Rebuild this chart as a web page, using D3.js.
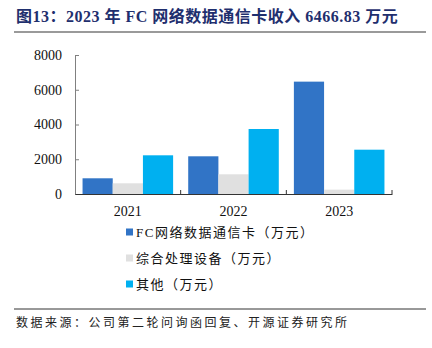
<!DOCTYPE html>
<html><head><meta charset="utf-8">
<script src="https://cdn.jsdelivr.net/npm/d3@7"></script>
<style>body{margin:0;background:#fff}svg{display:block}</style>
</head><body><svg id="c" width="432" height="348"></svg>
<script>
const years = ["2021", "2022", "2023"];
const seriesNames = ["FC网络数据通信卡（万元）", "综合处理设备（万元）", "其他（万元）"];
const fcCard = [904, 2170, 6466.83];
const processing = [615, 1133, 250];
const other = [2227, 3741, 2550];
const yTicks = [0, 2000, 4000, 6000, 8000];
const colors = ["#3174C6", "#E0E0E0", "#00B0F0"];
const title = "图13：2023 年 FC 网络数据通信卡收入 6466.83 万元";
const source = "数据来源：公司第二轮问询函回复、开源证券研究所";

const serif = "'Liberation Serif','Noto Sans CJK SC',serif";
const svg = d3.select("#c");
const series = [fcCard, processing, other];

// title
svg.append("text").attr("x", 16).attr("y", 22).text(title)
  .attr("font-family", serif).attr("font-weight", "bold").attr("font-size", 16)
  .attr("letter-spacing", 0.5).attr("fill", "#1F2F6E");
svg.append("line").attr("x1", 14).attr("x2", 426).attr("y1", 32).attr("y2", 32)
  .attr("stroke", "#9a9a9a").attr("stroke-width", 2);

const x0 = d3.scaleBand().domain(years).range([75, 392]).paddingInner(0).paddingOuter(0);
const x1 = d3.scaleBand().domain(d3.range(3)).range([0, x0.bandwidth()]).paddingInner(0).paddingOuter(0.25);
const y = d3.scaleLinear().domain([0, 8000]).range([194, 55]);

// bars
const g = svg.append("g");
years.forEach((yr, i) => {
  series.forEach((s, j) => {
    g.append("rect").attr("x", x0(yr) + x1(j)).attr("width", x1.bandwidth())
      .attr("y", y(s[i])).attr("height", y(0) - y(s[i])).attr("fill", colors[j]);
  });
});

// y axis
const ya = svg.append("g").attr("transform", "translate(75,0)")
  .call(d3.axisLeft(y).tickValues(yTicks).tickSizeInner(-4).tickSizeOuter(0).tickPadding(13).tickFormat(d3.format("d")));
ya.select(".domain").attr("stroke", "#808080");
ya.selectAll(".tick line").attr("stroke", "#808080");
ya.selectAll("text").attr("font-family", serif).attr("font-size", 14).attr("fill", "#111");

// x axis
const xa = svg.append("g").attr("transform", "translate(0,194)")
  .call(d3.axisBottom(x0).tickSize(0).tickPadding(12));
xa.select(".domain").attr("stroke", "#333");
xa.selectAll("text").attr("font-family", serif).attr("font-size", 14).attr("fill", "#111");
// category separator ticks
svg.append("g").selectAll("line").data(years).join("line")
  .attr("x1", d => x0(d) + x0.bandwidth()).attr("x2", d => x0(d) + x0.bandwidth())
  .attr("y1", 190).attr("y2", 194).attr("stroke", "#333");

// legend
const lg = svg.append("g");
seriesNames.forEach((n, i) => {
  const yy = 232 + i * 26;
  lg.append("rect").attr("x", 126).attr("y", yy - 3.5).attr("width", 7).attr("height", 7).attr("fill", colors[i]);
  lg.append("text").attr("x", 136).attr("y", yy).attr("dy", "0.35em").text(n)
    .attr("font-family", serif).attr("font-size", 13).attr("letter-spacing", 1.5).attr("fill", "#111");
});

// footer
svg.append("line").attr("x1", 14).attr("x2", 426).attr("y1", 309).attr("y2", 309)
  .attr("stroke", "#333").attr("stroke-width", 1);
svg.append("text").attr("x", 16).attr("y", 323).attr("dy", "0.35em").text(source)
  .attr("font-family", serif).attr("font-size", 12).attr("letter-spacing", 2.5).attr("fill", "#222");
</script></body></html>
